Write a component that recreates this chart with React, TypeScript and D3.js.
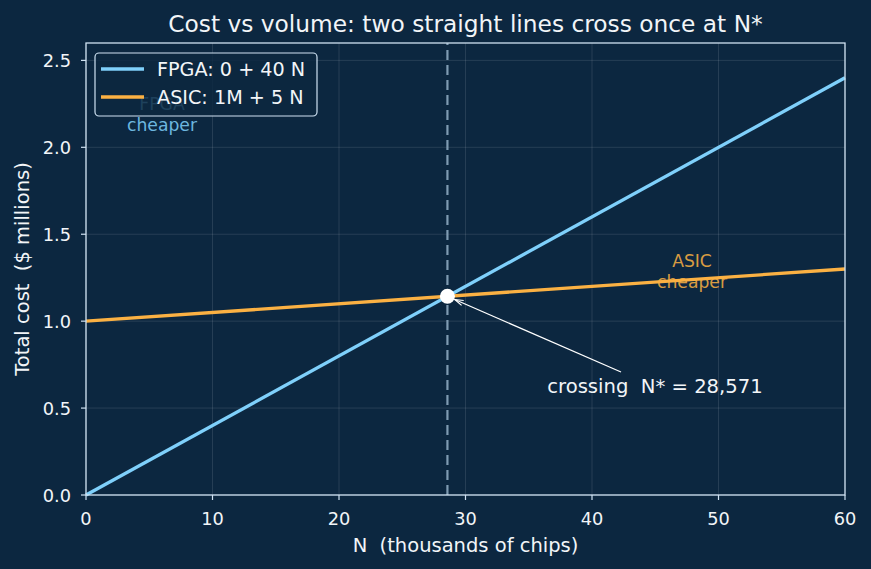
import React from "react";
import * as d3 from "d3";

// Cost model parameters ($ millions, N in thousands of chips)
const fpgaFixed = 0; // $M
const fpgaPerUnit = 40; // $ per chip
const asicFixed = 1; // $M
const asicPerUnit = 5; // $ per chip
const nRange = [0, 60];
const xTicks = [0, 10, 20, 30, 40, 50, 60];
const yTicks = [0, 0.5, 1.0, 1.5, 2.0, 2.5];
const legendLabels = ["FPGA: 0 + 40 N", "ASIC: 1M + 5 N"];

const W = 871;
const H = 569;
const margin = { left: 86, right: 26, top: 43, bottom: 74 };
const BG = "#0c2740";
const FPGA_C = "#7fd0fb";
const ASIC_C = "#fbb143";
const TEXT = "#f2f5f8";
const SPINE = "#cfe2f2";
const FONT = "'DejaVu Sans', sans-serif";
const pre = { whiteSpace: "pre" as const };

export default function App() {
  const x = d3.scaleLinear().domain(nRange).range([margin.left, W - margin.right]);
  const y = d3.scaleLinear().domain([0, 2.6]).range([H - margin.bottom, margin.top]);

  const cost = (fixed: number, per: number) => (n: number) => fixed + (per * n) / 1000;
  const fpga = cost(fpgaFixed, fpgaPerUnit);
  const asic = cost(asicFixed, asicPerUnit);
  // Break-even: fixed_a + p_a N = fixed_f + p_f N
  const nStar = ((asicFixed - fpgaFixed) * 1e6) / (fpgaPerUnit - asicPerUnit); // chips
  const nStarK = nStar / 1000;
  const cStar = fpga(nStarK);

  const fpgaPath = d3.line<number>().x((n) => x(n)).y((n) => y(fpga(n)))(nRange) || "";
  const asicPath = d3.line<number>().x((n) => x(n)).y((n) => y(asic(n)))(nRange) || "";

  const x0 = margin.left;
  const x1 = W - margin.right;
  const y0 = H - margin.bottom;
  const y1 = margin.top;

  const px = x(nStarK);
  const py = y(cStar);
  const textX = 655;
  const textY = 393;
  const arrowStart: [number, number] = [621, 372];
  const ang = Math.atan2(py - arrowStart[1], px - arrowStart[0]);
  const tipX = px + 8 * Math.cos(ang + Math.PI);
  const tipY = py + 8 * Math.sin(ang + Math.PI);
  const head = (da: number) => [tipX - 9 * Math.cos(ang + da), tipY - 9 * Math.sin(ang + da)];
  const h1 = head(0.3);
  const h2 = head(-0.3);

  return (
    <svg width={W} height={H} style={{ display: "block", position: "absolute", left: 0, top: 0 }} fontFamily={FONT}>
      <rect width={W} height={H} fill={BG} />
      {/* grid */}
      {xTicks.map((t) => (
        <line key={"gx" + t} x1={x(t)} x2={x(t)} y1={y0} y2={y1} stroke="#ffffff" strokeOpacity={0.14} strokeWidth={0.8} />
      ))}
      {yTicks.map((t) => (
        <line key={"gy" + t} x1={x0} x2={x1} y1={y(t)} y2={y(t)} stroke="#ffffff" strokeOpacity={0.14} strokeWidth={0.8} />
      ))}
      {/* region labels */}
      <text fill={FPGA_C} fontSize={17.2} textAnchor="middle" opacity={0.85}>
        <tspan x={162} y={110}>FPGA</tspan>
        <tspan x={162} y={131}>cheaper</tspan>
      </text>
      <text fill={ASIC_C} fontSize={17.2} textAnchor="middle" opacity={0.85}>
        <tspan x={692} y={267}>ASIC</tspan>
        <tspan x={692} y={288}>cheaper</tspan>
      </text>
      {/* break-even marker */}
      <line x1={px} x2={px} y1={y0} y2={y1} stroke="#7f9bb2" strokeWidth={2.2} strokeDasharray="10,5" />
      <path d={fpgaPath} stroke={FPGA_C} strokeWidth={3.3} fill="none" />
      <path d={asicPath} stroke={ASIC_C} strokeWidth={3.3} fill="none" />
      <circle cx={px} cy={py} r={7.5} fill="#ffffff" />
      <line x1={arrowStart[0]} y1={arrowStart[1]} x2={tipX} y2={tipY} stroke="#ffffff" strokeWidth={1.2} />
      <path d={`M${h1[0]},${h1[1]} L${tipX},${tipY} L${h2[0]},${h2[1]}`} stroke="#ffffff" strokeWidth={1.2} fill="none" />
      <text x={textX} y={textY} fill={TEXT} fontSize={19.6} textAnchor="middle" style={pre}>
        {"crossing  N* = " + d3.format(",")(Math.round(nStar))}
      </text>
      {/* spines */}
      <rect x={x0} y={y1} width={x1 - x0} height={y0 - y1} fill="none" stroke={SPINE} strokeWidth={1.3} />
      {/* ticks */}
      {xTicks.map((t) => (
        <g key={"tx" + t}>
          <line x1={x(t)} x2={x(t)} y1={y0} y2={y0 + 5} stroke={SPINE} strokeWidth={1.2} />
          <text x={x(t)} y={y0 + 30} fill={TEXT} fontSize={17.8} textAnchor="middle">{t}</text>
        </g>
      ))}
      {yTicks.map((t) => (
        <g key={"ty" + t}>
          <line x1={x0 - 5} x2={x0} y1={y(t)} y2={y(t)} stroke={SPINE} strokeWidth={1.2} />
          <text x={x0 - 15} y={y(t) + 6.5} fill={TEXT} fontSize={17.8} textAnchor="end">{t.toFixed(1)}</text>
        </g>
      ))}
      <text x={(x0 + x1) / 2} y={552} fill={TEXT} fontSize={19.5} textAnchor="middle" style={pre}>N  (thousands of chips)</text>
      <text transform={`translate(29,${(y0 + y1) / 2}) rotate(-90)`} fill={TEXT} fontSize={19.5} textAnchor="middle" style={pre}>
        Total cost  ($ millions)
      </text>
      <text x={(x0 + x1) / 2} y={32} fill={TEXT} fontSize={23.3} textAnchor="middle">
        Cost vs volume: two straight lines cross once at N*
      </text>
      {/* legend */}
      <rect x={95} y={53} width={222} height={63} rx={4} fill={BG} fillOpacity={0.82} stroke={SPINE} strokeWidth={1.2} />
      {legendLabels.map((lab, i) => (
        <g key={lab}>
          <line x1={101} x2={144} y1={69 + i * 28} y2={69 + i * 28} stroke={i === 0 ? FPGA_C : ASIC_C} strokeWidth={3.3} />
          <text x={157} y={76 + i * 28} fill={TEXT} fontSize={19.2}>{lab}</text>
        </g>
      ))}
    </svg>
  );
}
